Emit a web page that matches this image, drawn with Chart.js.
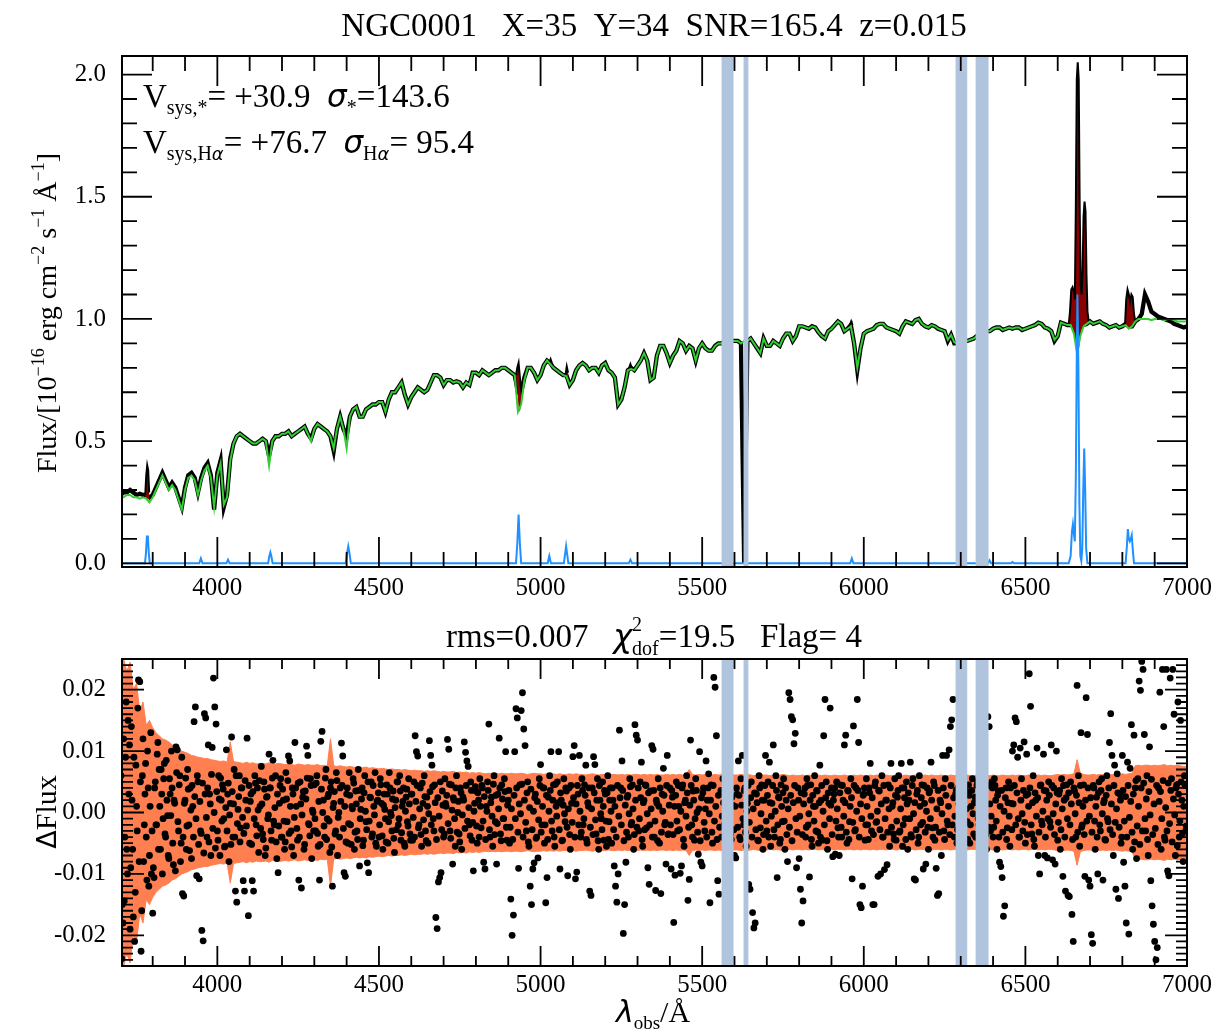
<!DOCTYPE html>
<html>
<head>
<meta charset="utf-8">
<script src="https://cdn.jsdelivr.net/npm/chart.js@4.4.1/dist/chart.umd.min.js"></script>
<style>
html,body{margin:0;padding:0;background:#fff;}
#wrap{position:relative;width:1219px;height:1031px;}
canvas{position:absolute;left:0;}
#top{top:0;}
#bot{top:600px;}
</style>
</head>
<body>
<div id="wrap">
<canvas id="top" width="1219" height="600"></canvas>
<canvas id="bot" width="1219" height="431"></canvas>
</div>
<script>
// ======= data =======
// observed + stellar model spectrum, sampled every 10 A from 3700 A
const GRID_START = 3700, GRID_STEP = 10;
const obsFlux = [
  0.28,0.29,0.29,0.30,0.29,0.28,0.285,0.28,0.28,0.27,
  0.28,0.31,0.34,0.37,0.34,0.31,0.33,0.31,0.27,0.23,
  0.31,0.36,0.37,0.35,0.29,0.35,0.39,0.41,0.36,0.22,
  0.37,0.42,0.23,0.28,0.43,0.49,0.52,0.53,0.52,0.51,
  0.50,0.49,0.49,0.50,0.51,0.50,0.44,0.50,0.52,0.52,
  0.53,0.53,0.54,0.52,0.53,0.54,0.55,0.56,0.53,0.51,
  0.55,0.57,0.56,0.55,0.54,0.52,0.46,0.55,0.60,0.55,
  0.52,0.60,0.63,0.64,0.60,0.60,0.63,0.64,0.65,0.65,
  0.66,0.66,0.62,0.67,0.70,0.70,0.72,0.74,0.69,0.65,
  0.68,0.70,0.72,0.71,0.70,0.71,0.74,0.77,0.77,0.76,
  0.73,0.75,0.75,0.74,0.745,0.74,0.72,0.74,0.73,0.78,
  0.78,0.77,0.79,0.78,0.77,0.78,0.79,0.79,0.80,0.80,
  0.79,0.78,0.77,0.70,0.70,0.76,0.80,0.80,0.78,0.75,
  0.77,0.81,0.83,0.82,0.80,0.79,0.78,0.77,0.77,0.73,
  0.75,0.79,0.81,0.82,0.81,0.79,0.80,0.80,0.78,0.81,
  0.82,0.79,0.78,0.76,0.65,0.67,0.72,0.79,0.80,0.79,
  0.81,0.83,0.86,0.83,0.75,0.76,0.85,0.89,0.89,0.86,
  0.82,0.85,0.87,0.91,0.90,0.87,0.89,0.88,0.83,0.88,
  0.90,0.88,0.87,0.87,0.89,0.90,0.90,0.91,0.90,0.91,
  0.91,0.91,0.90,0.00,0.91,0.92,0.90,0.88,0.86,0.92,
  0.89,0.89,0.91,0.90,0.89,0.92,0.94,0.94,0.91,0.93,
  0.97,0.97,0.965,0.96,0.97,0.965,0.945,0.93,0.92,0.95,
  0.96,0.975,0.99,0.98,0.95,0.96,0.975,0.90,0.79,0.88,
  0.94,0.95,0.955,0.96,0.975,0.98,0.98,0.965,0.96,0.955,
  0.95,0.94,0.97,0.99,0.985,0.98,0.995,1.00,0.98,0.97,
  0.965,0.975,0.97,0.96,0.955,0.95,0.91,0.935,0.90,0.90,
  0.90,0.91,0.91,0.915,0.92,0.93,0.94,0.94,0.95,0.95,
  0.96,0.965,0.965,0.955,0.96,0.965,0.96,0.965,0.965,0.955,
  0.96,0.965,0.97,0.975,0.985,0.98,0.965,0.96,0.95,0.91,
  0.93,0.985,0.98,0.975,0.975,0.97,0.97,0.97,0.975,0.98,
  0.99,0.98,0.985,0.99,0.98,0.975,0.965,0.97,0.975,0.965,
  0.97,0.98,0.97,0.97,0.99,1.00,1.02,1.10,1.07,1.03,
  1.02,1.01,1.005,1.00,0.995,0.99,0.98,0.975,0.97,0.965,
  0.97
];
const modelFlux = [
  0.27,0.27,0.28,0.28,0.27,0.27,0.265,0.27,0.265,0.25,
  0.27,0.30,0.33,0.36,0.33,0.30,0.32,0.30,0.26,0.22,
  0.30,0.35,0.36,0.34,0.28,0.34,0.38,0.40,0.35,0.23,
  0.36,0.41,0.24,0.27,0.42,0.49,0.52,0.53,0.52,0.51,
  0.50,0.49,0.49,0.50,0.51,0.50,0.40,0.50,0.52,0.52,
  0.53,0.53,0.54,0.52,0.53,0.54,0.55,0.56,0.53,0.50,
  0.55,0.57,0.56,0.55,0.54,0.52,0.47,0.55,0.60,0.55,
  0.47,0.60,0.63,0.64,0.60,0.60,0.63,0.64,0.65,0.65,
  0.66,0.66,0.62,0.67,0.70,0.70,0.72,0.74,0.69,0.65,
  0.68,0.70,0.72,0.71,0.70,0.71,0.74,0.77,0.77,0.76,
  0.73,0.75,0.75,0.74,0.745,0.74,0.72,0.74,0.73,0.78,
  0.78,0.77,0.79,0.78,0.77,0.78,0.79,0.79,0.80,0.80,
  0.79,0.78,0.77,0.62,0.65,0.75,0.80,0.80,0.78,0.75,
  0.77,0.81,0.83,0.815,0.80,0.79,0.78,0.77,0.765,0.73,
  0.75,0.79,0.81,0.82,0.81,0.79,0.80,0.80,0.78,0.81,
  0.82,0.79,0.78,0.76,0.65,0.67,0.72,0.79,0.795,0.79,
  0.81,0.83,0.86,0.83,0.75,0.76,0.85,0.89,0.89,0.86,
  0.82,0.85,0.87,0.91,0.90,0.87,0.89,0.88,0.83,0.88,
  0.90,0.88,0.87,0.87,0.89,0.90,0.90,0.91,0.90,0.91,
  0.91,0.91,0.90,0.91,0.91,0.92,0.90,0.88,0.86,0.92,
  0.89,0.89,0.91,0.90,0.89,0.92,0.94,0.94,0.91,0.93,
  0.97,0.97,0.965,0.96,0.97,0.965,0.945,0.93,0.92,0.95,
  0.96,0.975,0.99,0.98,0.95,0.96,0.97,0.90,0.80,0.88,
  0.94,0.95,0.955,0.96,0.975,0.98,0.98,0.965,0.96,0.955,
  0.95,0.94,0.97,0.99,0.985,0.98,0.995,1.00,0.98,0.97,
  0.965,0.975,0.97,0.96,0.955,0.95,0.915,0.935,0.905,0.90,
  0.90,0.91,0.91,0.915,0.92,0.93,0.94,0.94,0.95,0.95,
  0.96,0.965,0.965,0.955,0.96,0.965,0.96,0.965,0.965,0.955,
  0.96,0.965,0.97,0.975,0.985,0.98,0.965,0.96,0.95,0.915,
  0.93,0.985,0.98,0.975,0.975,0.94,0.86,0.93,0.97,0.98,
  0.99,0.98,0.985,0.99,0.98,0.975,0.965,0.97,0.975,0.965,
  0.97,0.975,0.96,0.97,0.99,1.00,1.00,1.00,1.00,0.995,
  1.00,1.00,1.00,0.995,1.00,1.00,0.995,0.99,0.99,0.99,
  0.99
];

// emission-line windows: observed flux and stellar model (null = gap)
const lineWave = [3777,3780,3783,3786,3789, 3800,
  4924,4928,4932,4936,4940,4944, 4980,
  5027,5031,5035, 5050,
  5077,5081,5085, 5150,
  5274,5278,5282, 5500,
  5957,5961,5965, 6300,
  6634,6638,6642,6646,6650,6653,6656,6659,6662,6665,6668,6671,6674,6677,6680,6683,6686,6689,6692,6696, 6750,
  6808,6812,6816,6820,6824,6828,6832,6836,6840];
const lineObs = [0.28,0.36,0.40,0.38,0.29, null,
  0.77,0.80,0.82,0.76,0.71,0.73, null,
  0.82,0.835,0.82, null,
  0.77,0.805,0.78, null,
  0.80,0.815,0.80, null,
  0.975,0.99,0.975, null,
  0.975,1.03,1.12,1.13,1.11,1.08,1.45,1.98,2.05,1.98,1.45,1.14,1.10,1.20,1.42,1.48,1.44,1.18,1.03,0.99, null,
  0.97,1.08,1.12,1.10,1.07,1.10,1.09,1.02,0.99];
const lineModel = [0.27,0.27,0.265,0.265,0.26, null,
  0.77,0.72,0.63,0.62,0.65,0.71, null,
  0.815,0.815,0.815, null,
  0.765,0.765,0.76, null,
  0.795,0.795,0.795, null,
  0.97,0.97,0.97, null,
  0.975,0.97,0.965,0.955,0.94,0.92,0.90,0.87,0.86,0.87,0.90,0.93,0.955,0.965,0.97,0.975,0.975,0.98,0.98,0.985, null,
  0.975,0.97,0.965,0.96,0.96,0.965,0.97,0.98,0.99];

// gas (emission line) model
const gasWave = [3705,3776,3779,3782,3785,3788,3791, 3944,3949,3954, 4028,4033,4038,
  4157,4161,4164,4167,4171, 4397,4401,4405,4409,4413, 4924,4928,4932,4936,4940,
  5022,5027,5032, 5072,5076,5079,5082,5086, 5273,5278,5283, 5958,5963,5968,
  6384,6389,6394, 6455,6460,6465,
  6634,6640,6644,6647,6650,6653,6656,6659,6661,6664,6667,6670,6673,6676,6679,6682,6685,6688,6692,
  6810,6814,6817,6820,6823,6826,6829,6832,6836, 7000];
const gasFlux = [0,0,0.04,0.11,0.11,0.04,0, 0,0.02,0, 0,0.015,0,
  0,0.03,0.045,0.03,0, 0,0.04,0.07,0.04,0, 0,0.08,0.20,0.08,0,
  0,0.03,0, 0,0.04,0.07,0.04,0, 0,0.015,0, 0,0.02,0,
  0,0.012,0, 0,0.005,0,
  0,0.03,0.13,0.16,0.12,0.09,0.35,0.85,1.10,0.80,0.25,0.03,0.01,0.06,0.30,0.47,0.30,0.06,0,
  0,0.07,0.14,0.10,0.09,0.10,0.115,0.06,0, 0];

// masked wavelength ranges
const maskStart = [5560, 5628, 6284, 6346];
const maskEnd   = [5597, 5643, 6320, 6386];

// residuals in units of 1e-4: even samples from 3700 A and odd samples from 3702 A, every 4 A
const RES_UNIT = 1e-4, RES_STEP = 4;
const RES_EVEN_START = 3700, RES_ODD_START = 3702;
const residEven = [
  -131,-238,-180,-144,90,-60,150,110,-90,20,-170,-210,77,-30,216,213,-226,60,-80,30,-40,100,-120,10,-100,
  -164,-106,50,-20,114,70,-60,30,-10,80,-40,20,-70,55,-5,40,-85,15,107,102,-30,60,-50,-132,-136,
  20,-60,70,-20,40,-75,10,148,172,-103,50,-108,-30,-192,-209,161,154,-40,110,30,-70,106,219,172,144,
  -30,60,-70,20,45,-10,-55,102,30,-80,15,123,-40,70,-128,-146,5,60,-25,40,-111,-128,20,121,-168,
  -50,30,-111,-128,60,-20,40,-65,10,75,-35,50,-70,25,-10,95,40,-45,85,-20,60,-75,-98,15,55,
  -40,20,-60,65,-15,92,84,-30,40,-70,114,10,-45,-110,50,-123,25,-60,35,108,93,-20,55,-75,0,
  45,-30,60,-55,-110,116,132,20,-40,70,-10,30,-65,50,-120,15,-35,65,-70,0,40,113,92,-98,-104,
  30,-50,65,-20,10,55,-60,35,-30,70,-87,5,40,-45,60,-15,-82,-98,25,50,-35,10,65,-55,20,
  -40,55,15,-60,30,-10,45,-50,65,0,-30,35,-65,20,50,-20,60,-45,10,40,-55,25,-15,55,-35,
  30,-45,50,125,99,92,-20,40,-55,15,60,-30,25,-50,117,93,77,-10,45,-171,-189,-113,-106,-98,35,
  -40,55,10,119,103,-30,45,-84,20,-55,60,0,-35,40,-60,25,115,98,84,75,-20,50,-45,-95,15,
  35,-50,20,55,-25,40,-81,-92,10,50,144,-40,25,-55,60,-15,-84,30,121,-35,45,-10,55,99,-45,
  20,-50,-141,-200,-167,99,169,154,-91,45,166,195,136,109,-30,50,-55,-120,-150,-92,-82,30,-40,-74,55,
  78,-20,40,-50,-147,-106,25,60,99,-30,45,-55,10,50,99,-92,20,-45,55,-15,35,-103,40,-60,15,
  91,109,-108,-97,30,93,-40,55,-20,45,77,-50,10,-128,-135,40,91,78,-35,55,-60,20,-10,50,-45,
  30,-55,60,-15,40,-50,20,-87,-120,-146,-100,134,40,84,-197,-150,-81,25,-40,55,-20,45,-60,143,126,
  118,-30,50,82,-55,20,45,-25,-90,-117,35,109,103,-40,-127,15,55,-50,-132,30,72,-20,-84,93,-35,
  40,-92,25,-179,-102,50,-30,10,-99,-87,45,-55,20,60,-143,-109,118,-20,35,-45,55,0,-68,99,-81,
  -87,40,-30,84,20,63,-147,45,-50,220,204,125,-111,-133,30,-40,55,-20,40,-60,10,50,-35,25,-70,
  -70,-74,30,84,-40,55,93,-20,40,-55,15,-117,-125,50,-163,-188,-180,30,-45,60,-25,45,-60,20,93,
  -30,50,82,-55,15,110,-40,60,-106,25,-50,45,-15,55,-60,20,-80,195,184,156,151,112,129,-90,40,
  -75,-125,-180,-144,30,-40,55,-20,-105,45,-55,10,60,-30,35,-50,77,20,-45,125,184,50,-60,15,170,
  40,-72,30,-68,50,-25,-70,45,-40,20,110,126,-50,35,-15,55,-108,141,-30,40,184,114,-150,-155,-120,
  30,-45,55,-20,40,80,-30,-150,-150,50,-15,-104,35,-100,60,-40,-93,20,-85,45,-55,80,10,-35,55,
  -45,25,60,-30,80,-55,40,-10,50,-60,20,82,-40,55,-108,-110,30,-50,60,-20,45,-92,15,-84,40,
  -60,35,82,-25,50,-45,-91,-135,-132,20,-70,93,-30,55,93,-20,102,140,151,184,-40,30,-50,40,-20,
  50,-30,20,-45,35,-15,45,-50,10,55,-35,25,-40,50,-20,30,-55,40,-10,45,-60,156,140,-30,50,
  -40,55,20,-60,35,-81,-88,-106,-169,-152,40,-25,50,-55,15,100,110,154,148,90,-40,105,55,-30,115,
  -50,95,30,226,173,-35,60,-55,20,105,-70,-100,45,-20,95,-70,35,-74,50,-15,110,-77,40,-84,100,
  -45,30,-60,55,-104,20,-128,45,-135,-137,50,-166,-210,35,-40,207,60,-55,130,-20,45,-104,187,127,-110,
  -120,-199,-213,40,-60,25,-100,50,-30,55,-110,20,-45,60,-15,114,161,93,-70,77,-125,63,-140,30,-50,
  93,-81,-120,-180,82,-198,72,143,-60,126,40,-75,55,214,199,246,233,127,-30,60,-70,107,-111,-152,-182,
  -210,-240,-220,40,196,-60,233,140,-45,233,-95,-103,219,55,233,160,-70,45,180,-40,150,20,-80,60,-30
];
const residOdd = [
  60,-150,120,-40,180,-100,30,-190,140,-60,90,-130,10,170,-80,50,-160,120,-20,80,-110,40,-70,130,-30,
  -90,40,-20,95,-60,10,70,-100,55,-35,85,-5,-75,30,100,-50,20,-95,65,-15,45,-80,90,-40,15,
  56,-22,38,-62,4,44,-40,26,-10,60,-52,18,-34,48,-66,30,-8,40,-48,14,62,-26,0,-58,34,
  -45,22,56,-14,38,-56,8,-30,48,-4,-52,34,14,-40,60,-18,26,-48,40,-8,-34,52,-22,4,44,
  18,-52,34,-10,48,-38,4,52,-26,14,-44,38,-58,26,-4,40,-30,56,-14,8,-48,30,-22,44,-40,
  38,-14,-48,22,52,-34,10,-56,30,-8,40,-26,48,-40,14,-4,34,-52,22,56,-18,-38,44,4,-30,
  -10,48,-34,18,-52,38,0,-22,56,-44,26,-14,40,-56,8,34,-30,52,-8,-40,18,44,-26,10,-48,
  40,-18,28,-52,6,48,-32,14,-44,36,-10,22,-54,32,2,-28,50,-14,24,-40,44,-4,-50,18,32,
  -20,45,-38,12,5,-48,30,-15,40,-5,22,-42,8,-28,50,-10,35,-33,18,-50,2,38,-22,14,-45,
  30,-8,-40,18,44,-25,6,-36,48,-12,26,-46,10,-2,34,-20,42,-30,16,-44,24,-6,50,-28,12,
  -35,15,28,-18,46,-42,4,24,-10,40,-32,18,-48,32,-4,20,-26,44,-14,8,-38,36,-16,2,42,
  -22,32,-40,10,44,-14,26,-44,2,36,-28,16,-6,46,-36,28,-18,6,40,-46,22,-10,34,-24,12,
  36,-24,6,-44,28,-10,40,-32,14,-2,46,-40,20,-16,32,-48,8,38,-28,2,24,-42,18,-12,44,
  -32,10,40,-20,28,-44,2,36,-14,20,-40,46,-6,16,-28,32,-46,12,-2,40,-24,6,-36,44,-16,
  24,-40,14,44,-20,2,-32,36,-10,28,-44,16,40,-24,6,-36,32,-12,20,-46,44,-2,-28,10,36,
  -14,32,-44,20,2,40,-28,10,-40,44,-6,24,-20,36,-46,12,-32,28,-2,42,-16,6,-36,20,-24,
  40,-10,24,-44,16,-28,44,-2,32,-20,6,-40,36,-14,20,-46,10,40,-32,2,28,-16,44,-36,12,
  -20,36,-36,10,28,-14,44,-28,2,40,-44,16,-6,32,-24,12,44,-40,20,-10,36,-32,6,-46,24,
  32,-16,6,-40,40,-2,20,-32,44,-14,10,-44,28,-24,36,-6,16,-36,44,-20,2,32,-44,12,-28,
  10,40,-24,28,-44,12,-10,36,-32,2,44,-16,24,-40,6,32,-28,16,-46,40,-2,20,-36,44,-14,
  28,-40,16,-6,44,-28,2,36,-20,24,-44,10,32,-14,40,-36,6,-24,28,-46,16,44,-10,-32,20,
  -6,32,-36,14,40,-24,44,-2,20,-44,28,-14,10,36,-32,16,-40,44,2,-20,24,-46,32,-10,12,
  -36,20,40,-14,6,-40,32,-24,44,-6,16,-32,36,-44,10,24,-16,44,-28,2,36,-40,14,-10,28,
  40,-20,10,-44,32,-6,24,-36,44,-16,2,36,-28,14,-40,44,-10,20,-32,6,40,-24,16,-44,28,
  -14,36,-32,6,40,-20,24,-44,14,32,-10,-36,44,-2,16,-28,36,-40,10,24,-16,44,-32,2,-24,
  32,-10,20,-40,44,-24,6,36,-32,16,-2,40,-44,28,-14,10,-36,44,-20,24,-6,36,-28,14,-40,
  20,-32,40,-14,6,-44,28,-20,36,-2,16,-40,44,-10,24,-28,32,-16,2,-36,44,-24,14,-6,40,
  -24,44,-14,28,-40,10,36,-32,2,24,-44,16,-6,40,-28,14,44,-20,32,-10,-40,20,-2,36,-16,
  28,-36,10,40,-20,16,-44,32,-6,24,-32,44,-14,2,36,-40,20,-10,28,-24,44,-2,-36,14,32,
  -16,36,-28,6,44,-40,24,-10,32,-20,14,-44,40,-2,28,-32,16,44,-24,10,-36,20,-14,40,-6,
  24,-32,44,-14,10,-40,32,-20,36,-2,16,-44,28,-10,40,-28,14,-36,44,-16,6,32,-24,20,-40,
  36,-14,26,-40,44,-8,18,-32,30,-48,52,-22,10,-52,40,-30,48,-10,22,-44,34,-4,54,-36,14,
  -26,44,-52,18,34,-10,52,-40,8,-30,48,-18,36,-48,22,-4,40,-54,30,-14,50,-34,10,44,-22
];

// error envelope half-width, every 10 A from 3700 A, in units of 1e-4
const ERR_START = 3700, ERR_STEP = 10;
const errHalf = [
  250,250,230,245,200,210,165,180,142,150,
  138,130,125,120,118,115,110,108,104,100,
  98,96,93,92,90,89,88,88,86,85,
  84,83,84,82,115,83,82,81,80,82,
  80,81,79,80,80,79,81,78,79,80,
  79,78,79,78,77,79,78,77,78,77,
  77,78,76,77,76,120,76,75,76,75,
  74,75,74,73,74,73,74,72,73,72,
  71,72,71,70,71,70,70,69,70,69,
  68,69,68,68,67,68,67,68,67,66,
  67,66,66,67,65,66,65,66,64,65,
  64,65,64,63,64,63,64,63,64,63,
  63,64,63,63,64,63,62,63,64,63,
  63,62,63,62,63,62,63,62,62,63,
  62,63,62,62,61,62,63,62,61,62,
  62,61,62,62,61,62,61,62,61,62,
  62,61,62,61,62,61,62,61,61,62,
  61,62,61,62,61,62,70,62,61,62,
  61,62,61,61,62,61,62,61,61,62,
  61,61,62,61,62,61,60,61,62,61,
  61,60,61,60,61,62,61,60,61,60,
  60,61,60,61,60,60,61,60,61,60,
  60,61,60,60,61,60,60,61,60,61,
  60,60,61,60,61,60,60,61,60,60,
  61,60,60,61,60,60,61,60,60,61,
  60,61,60,60,61,60,60,61,60,61,
  60,60,61,60,60,61,60,60,61,60,
  61,60,60,61,60,60,61,60,61,60,
  60,61,60,60,61,60,61,60,60,61,
  62,61,62,61,62,63,86,64,62,61,
  61,62,61,62,61,62,61,62,61,62,
  63,62,63,64,76,77,76,77,77,76,
  77,76,77,78,76,77,76,77,76,75,
  75
];

const waveTicks  = [4000, 4500, 5000, 5500, 6000, 6500, 7000];
const fluxTicks  = [0, 0.5, 1.0, 1.5, 2.0];
const residTicks = [-0.02, -0.01, 0, 0.01, 0.02];

// ======= helpers =======
const SERIF = '"Liberation Serif","Times New Roman",serif';
const SANS = '"DejaVu Sans",sans-serif';
const F  = (size) => size + 'px ' + SERIF;
const FI = (size) => 'italic ' + size + 'px ' + SANS;
const FS = (size) => size + 'px ' + SANS;

function onGrid(start, step, arr, unit){
  return arr.map((v, i) => ({ x: start + i*step, y: v == null ? null : v*(unit||1) }));
}
function pairs(xs, ys){ return xs.map((w, i) => ({ x: w, y: ys[i] })); }

// text with sub/superscripts; parts = [text, font, dy, stack]
function drawRich(ctx, parts, x, y, align){
  const widths = parts.map(p => { ctx.font = p[1]; return ctx.measureText(p[0]).width; });
  let total = 0;
  parts.forEach((p, i) => { if(!p[3]) total += widths[i]; });
  let cx = align === 'center' ? x - total/2 : x;
  ctx.textAlign = 'left';
  ctx.textBaseline = 'alphabetic';
  parts.forEach((p, i) => {
    ctx.font = p[1];
    ctx.fillText(p[0], cx, y + (p[2]||0));
    if(!p[3]) cx += widths[i];
  });
}

function textPlugin(items){
  return {
    id: 'richText',
    afterDraw(chart){
      const ctx = chart.ctx;
      ctx.save();
      ctx.fillStyle = '#000';
      items.forEach(it => {
        ctx.save();
        ctx.translate(it.x, it.y);
        if(it.rot) ctx.rotate(it.rot);
        drawRich(ctx, it.parts, 0, 0, it.align);
        ctx.restore();
      });
      ctx.restore();
    }
  };
}

// inward ticks on all four sides + frame
function framePlugin(cfg){
  return {
    id: 'frameTicks',
    afterDraw(chart){
      const { ctx, chartArea: a, scales: { x, y } } = chart;
      ctx.save();
      ctx.strokeStyle = '#000';
      ctx.lineWidth = 1.8;
      ctx.beginPath();
      for(let k = Math.ceil(x.min/cfg.xStep - 1e-6); k*cfg.xStep <= x.max + 1e-6; k++){
        const px = x.getPixelForValue(k*cfg.xStep);
        const len = (k % cfg.xEvery === 0) ? cfg.xLen[0] : cfg.xLen[1];
        ctx.moveTo(px, a.bottom); ctx.lineTo(px, a.bottom - len);
        ctx.moveTo(px, a.top);    ctx.lineTo(px, a.top + len);
      }
      for(let k = Math.ceil(y.min/cfg.yStep - 1e-6); k*cfg.yStep <= y.max + 1e-9; k++){
        const py = y.getPixelForValue(k*cfg.yStep);
        const len = (k % cfg.yEvery === 0) ? cfg.yLen[0] : cfg.yLen[1];
        ctx.moveTo(a.left, py);  ctx.lineTo(a.left + len, py);
        ctx.moveTo(a.right, py); ctx.lineTo(a.right - len, py);
      }
      ctx.stroke();
      ctx.lineWidth = 2;
      ctx.strokeRect(a.left, a.top, a.right - a.left, a.bottom - a.top);
      ctx.restore();
    }
  };
}

const maskBands = {
  id: 'maskBands',
  afterDatasetsDraw(chart){
    const { ctx, chartArea: a, scales: { x } } = chart;
    ctx.save();
    ctx.fillStyle = '#b0c4de';
    maskStart.forEach((s, i) => {
      const x0 = x.getPixelForValue(s), x1 = x.getPixelForValue(maskEnd[i]);
      ctx.fillRect(x0, a.top, x1 - x0, a.bottom - a.top);
    });
    ctx.restore();
  }
};

function axes(xH, yMin, yMax, yTicks, yFmt, xPad){
  const tickFont = { family: SERIF, size: 25 };
  return {
    x: {
      type: 'linear', min: 3705, max: 7000,
      grid: { display: false, drawTicks: false }, border: { display: false },
      afterBuildTicks: s => { s.ticks = waveTicks.map(v => ({ value: v })); },
      afterFit: s => { s.height = xH; },
      ticks: { font: tickFont, color: '#000', padding: xPad, maxRotation: 0, autoSkip: false, callback: v => String(v) }
    },
    y: {
      type: 'linear', min: yMin, max: yMax,
      grid: { display: false, drawTicks: false }, border: { display: false },
      afterBuildTicks: s => { s.ticks = yTicks.map(v => ({ value: v })); },
      afterFit: s => { s.width = 122; },
      ticks: { font: tickFont, color: '#000', padding: 16, autoSkip: false, callback: yFmt }
    }
  };
}

const common = {
  responsive: false, animation: false, devicePixelRatio: 1,
  elements: { point: { radius: 0 }, line: { tension: 0 } },
  plugins: { legend: { display: false }, tooltip: { enabled: false } }
};

// ======= top panel: spectrum =======
const topItems = [
  { x: 654, y: 36, align: 'center', parts: [['NGC0001   X=35  Y=34  SNR=165.4  z=0.015', F(33)]] },
  { x: 143, y: 107, parts: [['V', F(33)], ['sys,*', F(20), 7], ['= +30.9  ', F(33)], ['\u03c3', FI(31)], ['*', F(20), 7], ['=143.6', F(33)]] },
  { x: 143, y: 153, parts: [['V', F(33)], ['sys,H', F(20), 7], ['\u03b1', FI(18), 7], ['= +76.7  ', F(33)], ['\u03c3', FI(31)], ['H', F(20), 7], ['\u03b1', FI(18), 7], ['= 95.4', F(33)]] },
  { x: 56, y: 313, rot: -Math.PI/2, align: 'center', parts: [['Flux/[10', F(28)], ['\u221216', F(18), -12], [' erg cm', F(28)], ['\u22122', F(18), -12], [' s', F(28)], ['\u22121', F(18), -12], [' \u00c5', F(28)], ['\u22121', F(18), -12], [']', F(28)]] }
];

new Chart(document.getElementById('top'), {
  type: 'line',
  data: { datasets: [
    { label: 'observed', data: onGrid(GRID_START, GRID_STEP, obsFlux), borderColor: '#000', borderWidth: 4.3, order: 5 },
    { label: 'emission windows', data: pairs(lineWave, lineObs), borderColor: '#000', borderWidth: 2, backgroundColor: '#8b0000', fill: '+1', order: 4 },
    { label: 'windows model', data: pairs(lineWave, lineModel), borderColor: 'rgba(0,0,0,0)', borderWidth: 0, order: 4 },
    { label: 'stellar model', data: onGrid(GRID_START, GRID_STEP, modelFlux), borderColor: '#32cd32', borderWidth: 2, order: 2 },
    { label: 'gas model', data: pairs(gasWave, gasFlux), borderColor: '#1e90ff', borderWidth: 2, order: 1 }
  ]},
  options: Object.assign({}, common, {
    layout: { padding: { top: 56, right: 32, left: 0, bottom: 0 } },
    scales: axes(33, -0.015, 2.076, fluxTicks, v => v.toFixed(1), 6)
  }),
  plugins: [maskBands, framePlugin({ xStep: 100, xEvery: 5, xLen: [30, 15], yStep: 0.1, yEvery: 5, yLen: [30, 15] }), textPlugin(topItems)]
});

// ======= bottom panel: residuals =======
const botItems = [
  { x: 654, y: 47, align: 'center', parts: [['rms=0.007   ', F(33)], ['\u03c7', FI(32)], ['2', F(20), -16, true], ['dof', F(20), 8], ['=19.5   Flag= 4', F(33)]] },
  { x: 56, y: 212, rot: -Math.PI/2, align: 'center', parts: [['\u0394', FS(27)], ['Flux', F(30)]] },
  { x: 653, y: 422, align: 'center', parts: [['\u03bb', FI(30)], ['obs', F(19), 7], ['/\u00c5', F(30)]] }
];

const dotStyle = { showLine: false, pointRadius: 3.4, pointBackgroundColor: '#000', pointBorderWidth: 0, clip: 0, order: 1 };

new Chart(document.getElementById('bot'), {
  type: 'line',
  data: { datasets: [
    { label: 'error +', data: onGrid(ERR_START, ERR_STEP, errHalf, RES_UNIT), borderColor: '#ff7f50', borderWidth: 1, backgroundColor: '#ff7f50', fill: '+1', order: 3 },
    { label: 'error -', data: onGrid(ERR_START, ERR_STEP, errHalf, -RES_UNIT), borderColor: '#ff7f50', borderWidth: 1, order: 3 },
    Object.assign({ label: 'residual even', data: onGrid(RES_EVEN_START, RES_STEP, residEven, RES_UNIT) }, dotStyle),
    Object.assign({ label: 'residual odd', data: onGrid(RES_ODD_START, RES_STEP, residOdd, RES_UNIT) }, dotStyle)
  ]},
  options: Object.assign({}, common, {
    layout: { padding: { top: 59, right: 32, left: 0, bottom: 0 } },
    scales: axes(65, -0.025, 0.025, residTicks, v => v.toFixed(2), 4)
  }),
  plugins: [maskBands, framePlugin({ xStep: 100, xEvery: 5, xLen: [20, 10], yStep: 0.001, yEvery: 10, yLen: [22, 11] }), textPlugin(botItems)]
});
</script>
</body>
</html>
